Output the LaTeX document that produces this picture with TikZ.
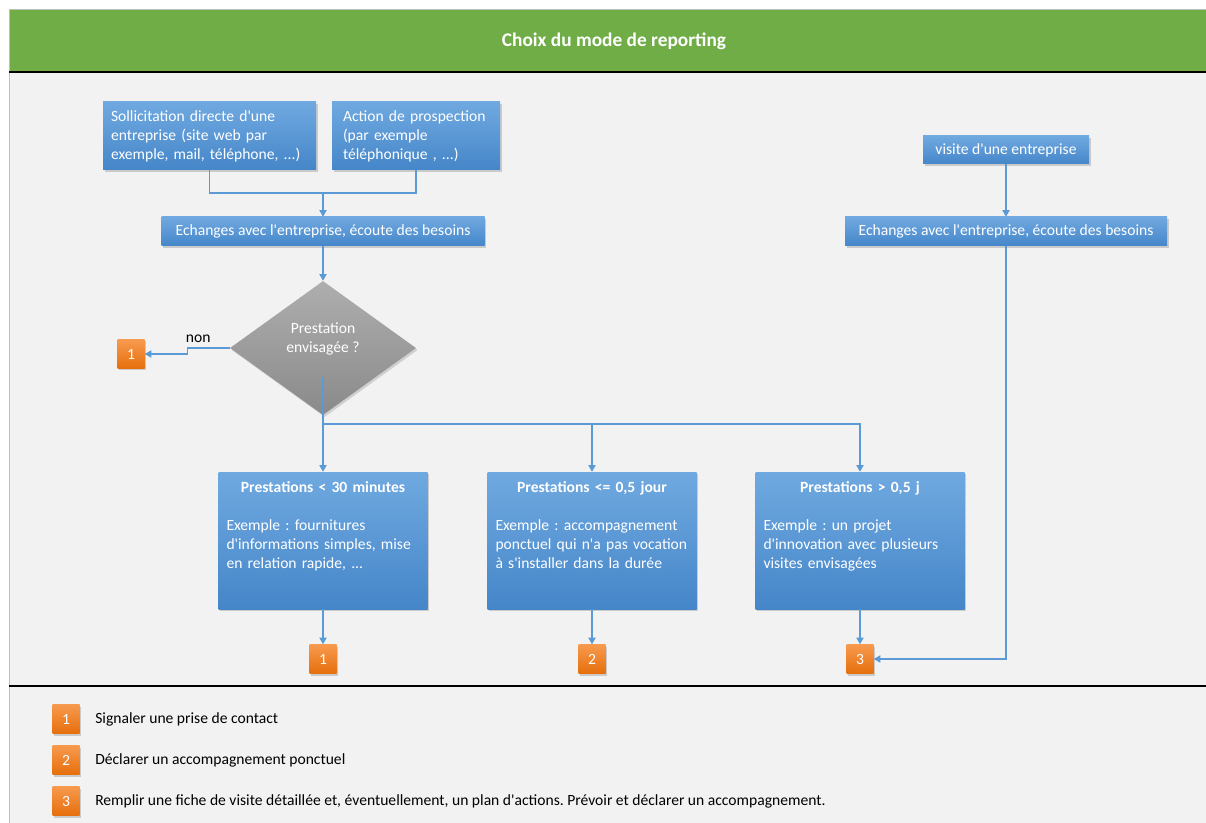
\documentclass[tikz,border=0pt]{standalone}
\usepackage{fontspec}
\setmainfont{Carlito}[Ligatures=TeXOff]
\usetikzlibrary{shapes.geometric,shadows,arrows.meta}
\newdimen\pxu \pxu=0.75pt
\frenchspacing
\definecolor{hdrgreen}{HTML}{70AD47}
\definecolor{panel}{HTML}{F2F2F2}
\definecolor{linkblue}{HTML}{5B9BD5}
\definecolor{boxtop}{HTML}{70A9E0}
\definecolor{boxbot}{HTML}{4586C9}
\definecolor{orgtop}{HTML}{F79A4E}
\definecolor{orgbot}{HTML}{E66F0C}
\definecolor{diatop}{HTML}{AEAEAE}
\definecolor{diabot}{HTML}{8A8A8A}

\begin{document}
\begin{tikzpicture}[x=0.75pt,y=-0.75pt,
    font=\fontsize{11.7}{14.25}\selectfont,
    bluebox/.style={top color=boxtop, bottom color=boxbot, text=white, inner sep=0pt,
      drop shadow={shadow xshift=1.2pt, shadow yshift=-1.5pt, opacity=0.35}},
    orangebox/.style={top color=orgtop, bottom color=orgbot, text=white, inner sep=0pt,
      minimum width=27\pxu, minimum height=29\pxu,
      drop shadow={shadow xshift=1.2pt, shadow yshift=-1.5pt, opacity=0.35}},
    presta/.style={bluebox, minimum width=209\pxu, minimum height=137\pxu,
      text width=193\pxu, align=left},
    link/.style={draw=linkblue, line width=0.8pt},
    arrow/.style={link, -{Triangle[width=5.5pt,length=5pt]}}]
  \useasboundingbox (0,0) rectangle (1206,823);
  % Draw background panel and header
  \fill[panel] (9,9) rectangle (1206,823);
  \fill[hdrgreen] (9,9) rectangle (1206,72);
  \draw[black!25] (9,823) -- (9,9) -- (1206,9);
  \draw[line width=1.4pt] (9,72) -- (1206,72);
  \draw[line width=1pt] (9,686) -- (1206,686);
  \node[text=white, font=\fontsize{14.5}{17}\selectfont\bfseries] (title) at (614,41) {Choix du mode de reporting};

  % Draw entry points
  \node[bluebox, minimum width=213\pxu, minimum height=68\pxu, text width=197\pxu, align=left] (sol) at (209.5,136)
    {Sollicitation directe d'une\\entreprise (site web par\\exemple, mail, téléphone, ...)};
  \node[bluebox, minimum width=168\pxu, minimum height=68\pxu, text width=146\pxu, align=left] (act) at (416,136)
    {Action de prospection\\(par exemple\\téléphonique , ...)};
  \node[bluebox, minimum width=323\pxu, minimum height=29\pxu] (ech1) at (323,231.5)
    {Echanges avec l'entreprise, écoute des besoins};
  \node[bluebox, minimum width=166\pxu, minimum height=28\pxu] (visite) at (1006,150) {visite d'une entreprise};
  \node[bluebox, minimum width=322\pxu, minimum height=29\pxu] (ech2) at (1006,231.5)
    {Echanges avec l'entreprise, écoute des besoins};

  % Draw decision
  \node[diamond, top color=diatop, bottom color=diabot, text=white, inner sep=0pt,
    minimum width=186\pxu, minimum height=134\pxu, align=center,
    drop shadow={shadow xshift=1.2pt, shadow yshift=-1.5pt, opacity=0.3}] (dia) at (323,348)
    {Prestation\\envisagée ?\\[1pt]};
  \node[orangebox] (b1) at (131,354) {1};

  % Draw the three kinds of prestations
  \node[presta] (p1) at (323,540.5)
    {{\centering\bfseries\strut Prestations < 30 minutes\par}\vspace{14pt}Exemple : fournitures\\d'informations simples, mise\\en relation rapide, ...\strut\par\vspace{21pt}};
  \node[presta] (p2) at (592,540.5)
    {{\centering\bfseries\strut Prestations <= 0,5 jour\par}\vspace{14pt}Exemple : accompagnement\\ponctuel qui n'a pas vocation\\à s'installer dans la durée\strut\par\vspace{21pt}};
  \node[presta] (p3) at (860,540.5)
    {{\centering\bfseries\strut Prestations > 0,5 j\par}\vspace{14pt}Exemple : un projet\\d'innovation avec plusieurs\\visites envisagées\strut\par\vspace{21pt}};
  \node[orangebox] (o1) at (323,659) {1};
  \node[orangebox] (o2) at (592,659) {2};
  \node[orangebox] (o3) at (860,659) {3};

  % Draw connectors
  \coordinate (merge) at (323,193);
  \coordinate (split) at (323,424);
  \draw[link] (sol.south) |- (merge) -| (act.south);
  \draw[arrow] (merge) -- (ech1.north);
  \draw[arrow] (ech1.south) -- (dia.north);
  \draw[arrow] (dia.west) -- ++(-42,0) node[above, pos=0.75, text=black] {non} |- (b1.east);
  \draw[link] ([yshift=-22pt]dia.center) -- (split);
  \draw[arrow] (split) -- (p1.north);
  \draw[arrow] (split) -| (p2.north);
  \draw[arrow] (split) -| (p3.north);
  \draw[arrow] (p1.south) -- (o1.north);
  \draw[arrow] (p2.south) -- (o2.north);
  \draw[arrow] (p3.south) -- (o3.north);
  \draw[arrow] (visite.south) -- (ech2.north);
  \draw[arrow] (ech2.south) |- (o3.east);

  % Draw legend
  \node[orangebox] (l1) at (66,719) {1};
  \node[orangebox] (l2) at (66,760) {2};
  \node[orangebox] (l3) at (66,801) {3};
  \node[anchor=west, inner sep=0pt] (t1) at (95,719) {Signaler une prise de contact};
  \node[anchor=west, inner sep=0pt] (t2) at (95,760) {Déclarer un accompagnement ponctuel};
  \node[anchor=west, inner sep=0pt] (t3) at (95,801) {Remplir une fiche de visite détaillée et, éventuellement, un plan d'actions. Prévoir et déclarer un accompagnement.};
\end{tikzpicture}
\end{document}
